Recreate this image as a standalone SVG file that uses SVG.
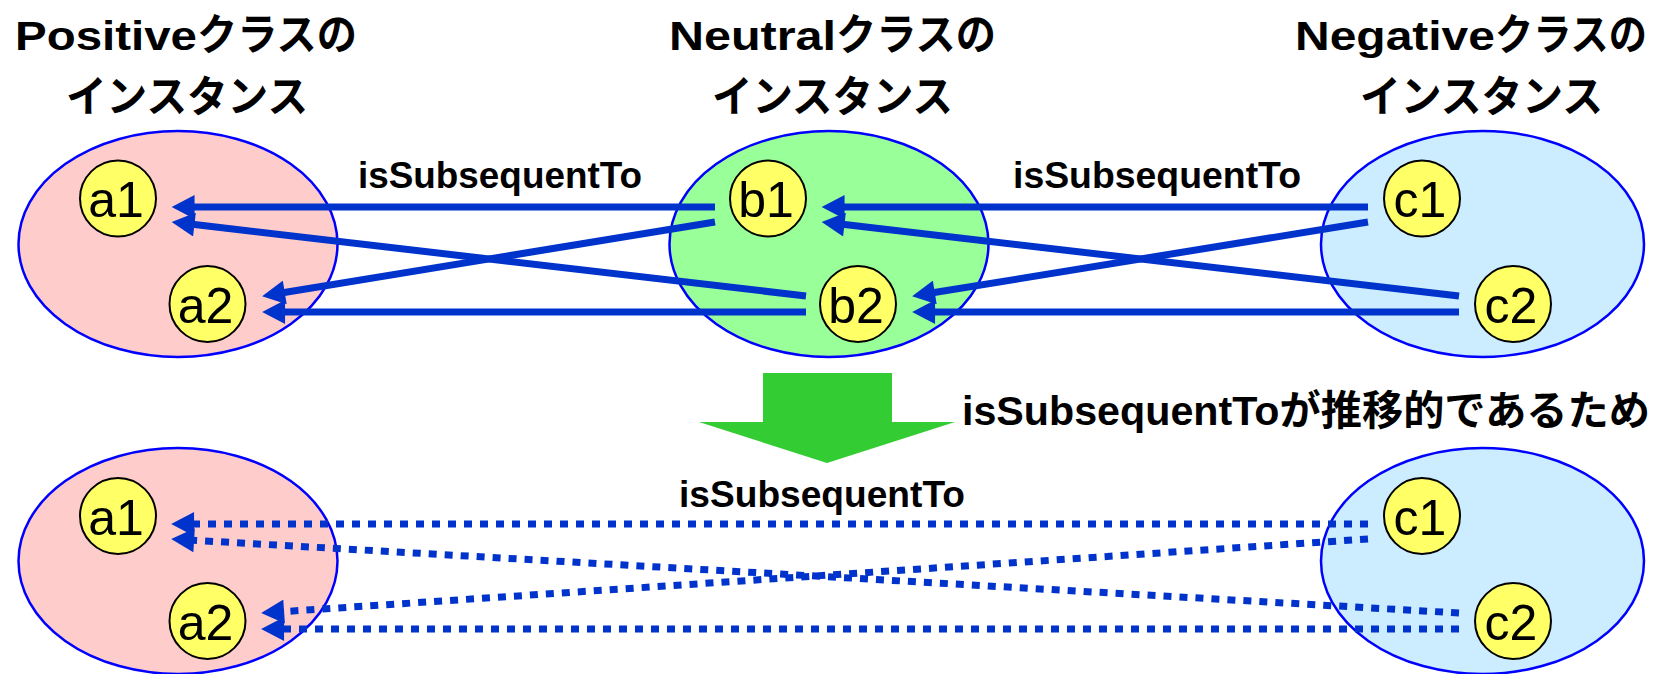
<svg xmlns="http://www.w3.org/2000/svg" width="1664" height="674" viewBox="0 0 1664 674">
<style>
.t{font-family:"Liberation Sans","Noto Sans CJK JP",sans-serif;font-weight:bold;fill:#000}
.lat{font-size:41px}
.jp{font-size:43px}
.lbl{font-size:37px}
.ell{stroke:#0000FF;stroke-width:2.5}
.pos{fill:#FFCCCC}.neu{fill:#99FF99}.neg{fill:#CCECFF}
.inst circle{fill:#FFFF66;stroke:#000;stroke-width:2}
.inst text{font-family:"Liberation Sans",sans-serif;font-size:50px;fill:#000;text-anchor:middle}
.c{stroke:#0033CC;stroke-width:7;fill:none;marker-end:url(#ah)}
.d{stroke-dasharray:8 8}
</style>
<defs>
<marker id="ah" markerUnits="userSpaceOnUse" markerWidth="24" markerHeight="24" refX="2" refY="11.5" orient="auto" viewBox="0 0 22 23">
<path d="M0,0 L22,11.5 L0,23 Z" fill="#0033CC"/>
</marker>
</defs>

<g id="titles">
<text class="t" x="15" y="50"><tspan class="lat" textLength="182" lengthAdjust="spacingAndGlyphs">Positive</tspan><tspan class="jp" textLength="160" lengthAdjust="spacingAndGlyphs">クラスの</tspan></text>
<text class="t jp" x="66" y="112" textLength="242" lengthAdjust="spacingAndGlyphs">インスタンス</text>
<text class="t" x="669" y="50"><tspan class="lat" textLength="167" lengthAdjust="spacingAndGlyphs">Neutral</tspan><tspan class="jp" textLength="160" lengthAdjust="spacingAndGlyphs">クラスの</tspan></text>
<text class="t jp" x="712" y="112" textLength="241" lengthAdjust="spacingAndGlyphs">インスタンス</text>
<text class="t" x="1295" y="50"><tspan class="lat" textLength="200" lengthAdjust="spacingAndGlyphs">Negative</tspan><tspan class="jp" textLength="152" lengthAdjust="spacingAndGlyphs">クラスの</tspan></text>
<text class="t jp" x="1360" y="112" textLength="243" lengthAdjust="spacingAndGlyphs">インスタンス</text>
</g>

<g id="positive-top"><ellipse class="ell pos" cx="178" cy="244" rx="159.5" ry="113"/></g>
<g id="neutral-top"><ellipse class="ell neu" cx="829" cy="244" rx="159.5" ry="113"/></g>
<g id="negative-top"><ellipse class="ell neg" cx="1482.5" cy="244" rx="161.5" ry="113"/></g>
<g id="positive-bottom"><ellipse class="ell pos" cx="178" cy="561" rx="159.5" ry="113"/></g>
<g id="negative-bottom"><ellipse class="ell neg" cx="1482.5" cy="561" rx="161.5" ry="113"/></g>

<g id="connectors">
<line class="c" x1="715" y1="207" x2="192.5" y2="207"/>
<line class="c" x1="715" y1="222" x2="282.7" y2="292.8"/>
<line class="c" x1="806" y1="296" x2="192.4" y2="224.3"/>
<line class="c" x1="806" y1="312" x2="283" y2="312"/>
<line class="c" x1="1368" y1="207" x2="842.5" y2="207"/>
<line class="c" x1="1368" y1="222" x2="932.7" y2="292.8"/>
<line class="c" x1="1459" y1="296" x2="842.4" y2="224.3"/>
<line class="c" x1="1459" y1="312" x2="933" y2="312"/>
<line class="c d" x1="1368" y1="524" x2="192" y2="524"/>
<line class="c d" x1="1368" y1="539" x2="282" y2="611.7"/>
<line class="c d" x1="1459" y1="613" x2="192" y2="540.2"/>
<line class="c d" x1="1459" y1="629" x2="282" y2="629"/>
</g>

<g id="a1-top" class="inst"><circle cx="118" cy="198.5" r="38"/><text x="116" y="217">a1</text></g>
<g id="a2-top" class="inst"><circle cx="207.5" cy="304" r="38"/><text x="205.5" y="322.5">a2</text></g>
<g id="b1" class="inst"><circle cx="768" cy="198.5" r="38"/><text x="766" y="217">b1</text></g>
<g id="b2" class="inst"><circle cx="858" cy="304" r="38"/><text x="856" y="322.5">b2</text></g>
<g id="c1-top" class="inst"><circle cx="1422" cy="198.5" r="38"/><text x="1420" y="217">c1</text></g>
<g id="c2-top" class="inst"><circle cx="1513" cy="304" r="38"/><text x="1511" y="322.5">c2</text></g>
<g id="a1-bottom" class="inst"><circle cx="118" cy="516" r="38"/><text x="116" y="534.5">a1</text></g>
<g id="a2-bottom" class="inst"><circle cx="207.5" cy="621" r="38"/><text x="205.5" y="639.5">a2</text></g>
<g id="c1-bottom" class="inst"><circle cx="1422" cy="516" r="38"/><text x="1420" y="534.5">c1</text></g>
<g id="c2-bottom" class="inst"><circle cx="1513" cy="621" r="38"/><text x="1511" y="639.5">c2</text></g>

<g id="labels">
<text class="t lbl" x="358" y="188" textLength="284" lengthAdjust="spacingAndGlyphs">isSubsequentTo</text>
<text class="t lbl" x="1013" y="188" textLength="288" lengthAdjust="spacingAndGlyphs">isSubsequentTo</text>
<text class="t lbl" x="679" y="507" textLength="286" lengthAdjust="spacingAndGlyphs">isSubsequentTo</text>
</g>

<g id="transition">
<polygon points="763,373 892,373 892,422 955,422 827,463 699,422 763,422" fill="#33CC33"/>
<text class="t" x="962" y="425" font-size="41" textLength="688" lengthAdjust="spacingAndGlyphs">isSubsequentToが推移的であるため</text>
</g>
</svg>
